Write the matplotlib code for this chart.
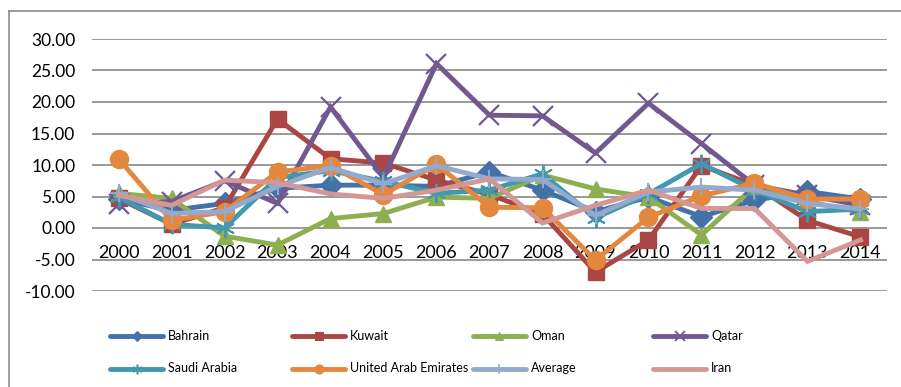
import matplotlib.pyplot as plt
from matplotlib.lines import Line2D

years = [str(y) for y in range(2000, 2015)]

bahrain = [4.6, 2.8, 3.9, 6.3, 6.8, 6.8, 6.6, 8.9, 6.0, 2.6, 4.9, 1.8, 4.4, 5.8, 4.6]
kuwait = [4.7, 0.6, 3.2, 17.3, 11.0, 10.3, 7.6, 5.3, 2.2, -7.0, -1.9, 9.9, 6.8, 1.2, -1.4]
oman = [5.5, 4.7, -1.3, -2.7, 1.5, 2.3, 4.9, 4.7, 8.4, 6.2, 4.9, -1.1, 6.6, 4.2, 2.5]
qatar = [3.8, 4.2, 7.5, 3.9, 19.2, 8.0, 26.1, 17.9, 17.8, 11.9, 19.8, 13.4, 6.8, 5.2, 3.6]
saudi = [4.9, 0.6, 0.0, 8.0, 9.1, 7.4, 5.5, 6.0, 8.6, 1.6, 5.4, 10.2, 6.0, 2.6, 3.0]
uae = [11.0, 1.2, 2.6, 8.9, 9.9, 5.3, 10.1, 3.3, 3.2, -5.1, 1.7, 5.1, 7.1, 4.6, 4.6]
average = [5.5, 2.3, 2.6, 6.6, 9.6, 7.0, 9.9, 7.8, 7.7, 2.0, 5.7, 6.5, 6.0, 3.9, 3.0]
iran = [5.2, 3.6, 7.6, 7.2, 5.4, 4.7, 6.0, 7.8, 0.8, 3.6, 6.0, 3.1, 3.1, -5.3, -1.9]

series = [
    ("Bahrain", bahrain, "#4472A8", "D", 11, 1.0),
    ("Kuwait", kuwait, "#AA4643", "s", 12, 1.0),
    ("Oman", oman, "#8EAF50", "^", 12, 1.0),
    ("Qatar", qatar, "#71588F", "x", 14, 1.6),
    ("Saudi Arabia", saudi, "#4198AF", (6, 2, 0), 14, 1.4),
    ("United Arab Emirates", uae, "#E3883E", "o", 13, 1.0),
    ("Average", average, "#93A9CF", "+", 13, 1.4),
    ("Iran", iran, "#D39795", None, 0, 1.0),
]

plt.rcParams['font.family'] = ['Lato', 'DejaVu Sans']

fig = plt.figure(figsize=(9.01, 3.87), dpi=100)
ax = fig.add_axes([92 / 901, 1 - 291 / 387, 795 / 901, 252 / 387])

x = list(range(len(years)))
for name, vals, col, mk, ms, mew in series:
    ax.plot(x, vals, color=col, lw=3.5, marker=mk, markersize=ms,
            markeredgewidth=mew, markerfacecolor=col, markeredgecolor=col,
            solid_joinstyle='miter', zorder=3)

ax.set_xlim(-0.5, len(years) - 0.5)
ax.set_ylim(-10, 30)
ax.set_yticks(range(-10, 31, 5))
ax.set_yticklabels([f"{v:.2f}" for v in range(-10, 31, 5)])
ax.set_xticks(x)
ax.set_xticklabels(years)
ax.yaxis.grid(True, color="#878787", lw=1.2, zorder=1)
ax.set_axisbelow(True)
for s in ['top', 'right', 'left']:
    ax.spines[s].set_visible(False)
ax.spines['bottom'].set_position(('data', 0))
ax.spines['bottom'].set_visible(False)
ax.tick_params(axis='x', length=0, pad=12.5, labelsize=13)
ax.tick_params(axis='y', length=0, pad=12, labelsize=12.5)

# chart frame (left and top edges visible)
fig.add_artist(Line2D([9 / 901, 9 / 901], [0, 1 - 10.5 / 387], transform=fig.transFigure,
                      color="#8C8C8C", lw=1.2))
fig.add_artist(Line2D([9 / 901, 1], [1 - 10.5 / 387, 1 - 10.5 / 387], transform=fig.transFigure,
                      color="#8C8C8C", lw=1.2))

# legend, 4 columns x 2 rows
col_x = [110, 292, 473, 653]
row_y = [335.5, 368.5]
for i, (name, vals, col, mk, ms, mew) in enumerate(series):
    cx = col_x[i % 4]
    cy = 1 - row_y[i // 4] / 387
    fig.add_artist(Line2D([cx / 901, (cx + 53) / 901], [cy, cy], transform=fig.transFigure,
                          color=col, lw=3.5, solid_capstyle='round'))
    if mk is not None:
        fig.add_artist(Line2D([(cx + 26.5) / 901], [cy], transform=fig.transFigure,
                              color=col, marker=mk, markersize=ms * 0.5,
                              markeredgewidth=mew * 0.8, markerfacecolor=col,
                              markeredgecolor=col))
    fig.text((cx + 58) / 901, cy, name, fontsize=9, va='center', ha='left')

fig.savefig("out.png", dpi=100)
